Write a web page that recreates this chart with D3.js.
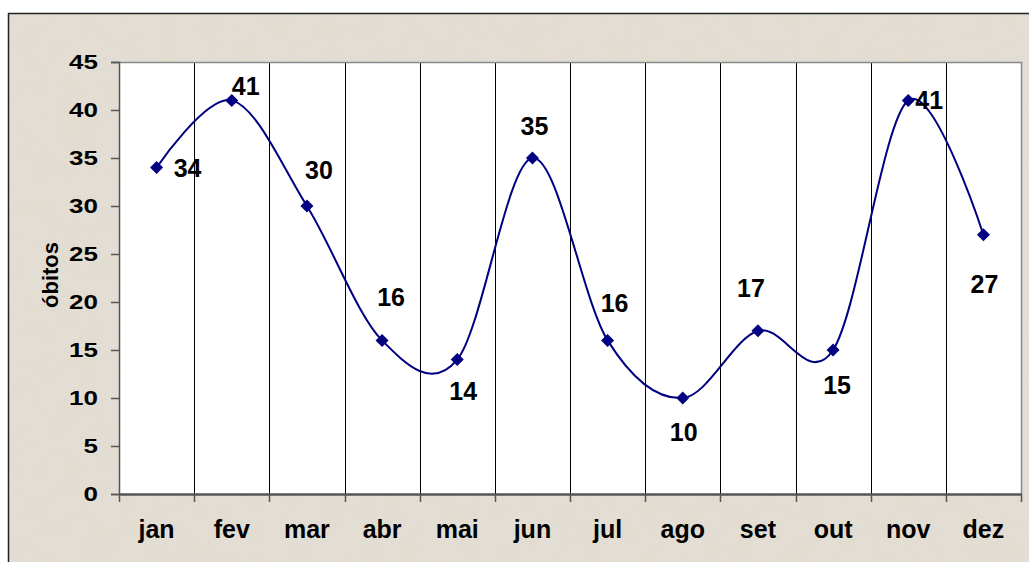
<!DOCTYPE html>
<html>
<head>
<meta charset="utf-8">
<script src="https://cdn.jsdelivr.net/npm/d3@7"></script>
<style>
  html, body { margin: 0; padding: 0; background: #fff; }
  svg text { font-family: "Liberation Sans", Arial, sans-serif; font-weight: bold; }
</style>
</head>
<body>
<div id="chart"></div>
<script>
const w = 1029;
const h = 562;

// monthly data
const months = ["jan", "fev", "mar", "abr", "mai", "jun", "jul", "ago", "set", "out", "nov", "dez"];
const obitos = [34, 41, 30, 16, 14, 35, 16, 10, 17, 15, 41, 27];
const yTicks = [0, 5, 10, 15, 20, 25, 30, 35, 40, 45];

// label offsets from each marker (hand placed like the original)
const labelOffsets = [
  [31, 0], [14, -14], [12, -36], [9, -43], [6, 31], [2, -32],
  [7, -37], [1, 34], [-7, -43], [4, 35], [21, 0], [1, 49]
];

const plot = { left: 119, top: 62, right: 1021, bottom: 494 };

const svg = d3.select("#chart").append("svg").attr("width", w).attr("height", h);

//paper-like background
const defs = svg.append("defs");
const filter = defs.append("filter").attr("id", "paper")
  .attr("x", 0).attr("y", 0).attr("width", "100%").attr("height", "100%");
filter.append("feTurbulence").attr("type", "fractalNoise")
  .attr("baseFrequency", "0.05").attr("numOctaves", 3).attr("seed", 4).attr("result", "noise");
filter.append("feColorMatrix").attr("in", "noise").attr("type", "matrix")
  .attr("values", "0 0 0 0 0.78  0 0 0 0 0.75  0 0 0 0 0.70  0 0 0 0.9 -0.25");

svg.append("rect").attr("x", 8).attr("y", 13).attr("width", w - 8).attr("height", h - 13)
  .attr("fill", "#e2dcd1");
svg.append("rect").attr("x", 8).attr("y", 13).attr("width", w - 8).attr("height", h - 13)
  .attr("filter", "url(#paper)");

// outer border (top + left only, the rest is cut off)
svg.append("path").attr("d", `M8.5,${h} V13.5 H${w}`)
  .attr("fill", "none").attr("stroke", "#222").attr("stroke-width", 1.5);

//Scales
const xScale = d3.scaleBand().domain(months).range([plot.left, plot.right]);
const yScale = d3.scaleLinear().domain([0, 45]).range([plot.bottom, plot.top]);

// plot area
svg.append("rect")
  .attr("x", plot.left).attr("y", plot.top)
  .attr("width", plot.right - plot.left).attr("height", plot.bottom - plot.top)
  .attr("fill", "#fff");

// vertical gridlines at category boundaries
svg.append("g").selectAll("line")
  .data(months.slice(1))
  .enter().append("line")
  .attr("x1", (d) => Math.round(xScale(d)) + 0.5)
  .attr("x2", (d) => Math.round(xScale(d)) + 0.5)
  .attr("y1", plot.top).attr("y2", plot.bottom)
  .attr("stroke", "#000").attr("stroke-width", 1);

// top + right border of the plot
svg.append("path")
  .attr("d", `M${plot.left},${plot.top + 0.5} H${plot.right + 0.5} V${plot.bottom}`)
  .attr("fill", "none").attr("stroke", "#888").attr("stroke-width", 1.5);

//Axes
const yAxis = d3.axisLeft(yScale).tickValues(yTicks).tickSize(8);
const gy = svg.append("g").attr("transform", `translate(${plot.left}, 0)`).call(yAxis);
gy.select(".domain").attr("stroke", "#555").attr("stroke-width", 1.5);
gy.selectAll(".tick line").attr("stroke", "#555").attr("stroke-width", 1.5);
gy.selectAll(".tick text")
  .attr("x", 0)
  .attr("transform", "translate(-21, 0) scale(1.3, 1)")
  .attr("font-size", 20).attr("fill", "#000")
  .attr("font-family", "Liberation Sans, Arial, sans-serif");

const xAxis = d3.axisBottom(xScale).tickSize(0);
const gx = svg.append("g").attr("transform", `translate(0, ${plot.bottom})`).call(xAxis);
gx.select(".domain").attr("stroke", "#555").attr("stroke-width", 2.5);
gx.selectAll(".tick text")
  .attr("y", 44).attr("dy", 0)
  .attr("font-size", 25).attr("fill", "#000")
  .attr("font-family", "Liberation Sans, Arial, sans-serif");

// tick marks between categories
svg.append("g").selectAll("line")
  .data(months.concat(["end"]))
  .enter().append("line")
  .attr("x1", (d, i) => Math.round(plot.left + i * xScale.step()) + 0.5)
  .attr("x2", (d, i) => Math.round(plot.left + i * xScale.step()) + 0.5)
  .attr("y1", plot.bottom).attr("y2", plot.bottom + 8)
  .attr("stroke", "#555").attr("stroke-width", 1.5);

// y title
svg.append("text")
  .attr("transform", `translate(58, 275) rotate(-90)`)
  .attr("text-anchor", "middle")
  .attr("font-size", 22)
  .text("óbitos");

//Line
const cx = (i) => xScale(months[i]) + xScale.bandwidth() / 2;
const line = d3.line()
  .x((d, i) => cx(i))
  .y((d) => yScale(d))
  .curve(d3.curveCardinal.tension(0));

svg.append("path").datum(obitos)
  .attr("d", line)
  .attr("fill", "none").attr("stroke", "#000080").attr("stroke-width", 2);

// diamond markers
svg.append("g").selectAll("path")
  .data(obitos)
  .enter().append("path")
  .attr("d", "M0,-6.5 L6.5,0 L0,6.5 L-6.5,0 Z")
  .attr("transform", (d, i) => `translate(${cx(i)}, ${yScale(d)})`)
  .attr("fill", "#000080");

// data labels
svg.append("g").selectAll("text")
  .data(obitos)
  .enter().append("text")
  .attr("x", (d, i) => cx(i) + labelOffsets[i][0])
  .attr("y", (d, i) => yScale(d) + labelOffsets[i][1])
  .attr("dy", "0.36em")
  .attr("text-anchor", "middle")
  .attr("font-size", 25)
  .text((d) => d);
</script>
</body>
</html>
